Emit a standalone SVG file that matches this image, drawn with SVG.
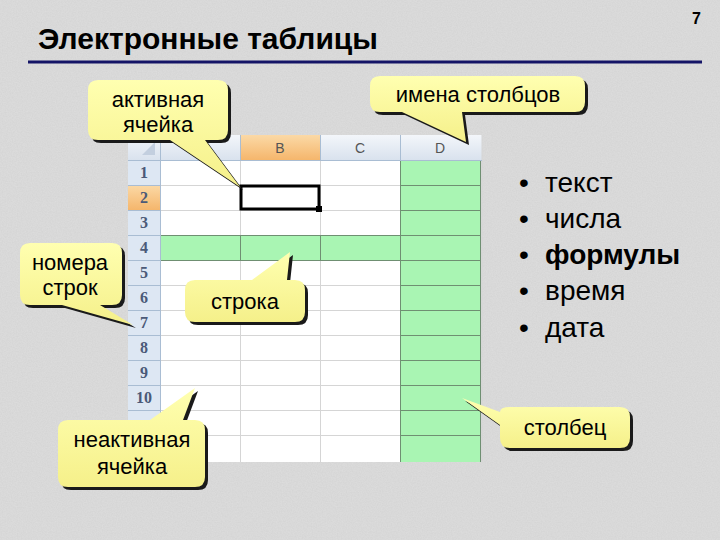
<svg xmlns="http://www.w3.org/2000/svg" width="720" height="540" viewBox="0 0 720 540">
<style>
.title{font-family:"Liberation Sans",Arial,sans-serif;font-weight:bold;font-size:30px;fill:#000}
.pg{font-family:"Liberation Sans",Arial,sans-serif;font-weight:bold;font-size:16px;fill:#000}
.co{font-family:"Liberation Sans",Arial,sans-serif;font-size:22px;fill:#000;text-anchor:middle}
.bl{font-family:"Liberation Sans",Arial,sans-serif;font-size:28px;fill:#000}
.rn{font-family:"Liberation Serif","Times New Roman",serif;font-size:16px;font-weight:bold;fill:#4b5a78;text-anchor:middle}
.cn{font-family:"Liberation Sans",Arial,sans-serif;font-size:14px;fill:#555;text-anchor:middle}
.gl{stroke:#d5d5d5;stroke-width:1}
.gg{stroke:#6f8f72;stroke-width:1}
.hl{stroke:#a9bdd3;stroke-width:1}
.cshadow{fill:#1a1a1a}
.cfill{fill:url(#yel)}
</style>
<defs>
<linearGradient id="yel" x1="0" y1="0" x2="0" y2="1">
<stop offset="0" stop-color="#ffffb0"/>
<stop offset="1" stop-color="#f5f08a"/>
</linearGradient>
<linearGradient id="hdr" x1="0" y1="0" x2="0" y2="1">
<stop offset="0" stop-color="#f3f6fa"/>
<stop offset="1" stop-color="#d9e2ee"/>
</linearGradient>
<linearGradient id="org" x1="0" y1="0" x2="0" y2="1">
<stop offset="0" stop-color="#fbd9a6"/>
<stop offset="1" stop-color="#f5b66c"/>
</linearGradient>
<filter id="noise" x="0" y="0" width="100%" height="100%">
<feTurbulence type="fractalNoise" baseFrequency="0.8" numOctaves="2" seed="3"/>
<feColorMatrix type="matrix" values="0 0 0 0 0.55  0 0 0 0 0.55  0 0 0 0 0.55  0 0 0 -1.2 1.0"/>
</filter>
</defs>

<!-- background -->
<rect x="0" y="0" width="720" height="540" fill="#dcdcdc"/>
<rect x="0" y="0" width="720" height="540" filter="url(#noise)" opacity="0.35"/>

<!-- title -->
<text class="title" x="38" y="49">Электронные таблицы</text>
<text class="pg" x="692" y="24">7</text>
<line x1="28" y1="62" x2="702" y2="62" stroke="#141466" stroke-width="3"/>

<!-- spreadsheet -->
<g id="sheet">
<rect x="160" y="160" width="320" height="302" fill="#ffffff"/>
<rect x="160" y="235" width="320" height="25" fill="#a9f5b3"/>
<rect x="400" y="160" width="80" height="302" fill="#a9f5b3"/>
<rect x="128" y="135" width="354" height="25" fill="url(#hdr)"/>
<rect x="240" y="135" width="80" height="25" fill="url(#org)"/>
<rect x="128" y="160" width="32" height="302" fill="#dde7f3"/>
<rect x="128" y="185" width="32" height="25" fill="url(#org)"/>
<polygon points="155,142 155,155 142,155" fill="#c3cfdf"/>
<g class="gl">
<line x1="160" y1="185.5" x2="400" y2="185.5"/>
<line x1="160" y1="210.5" x2="400" y2="210.5"/>
<line x1="160" y1="285.5" x2="400" y2="285.5"/>
<line x1="160" y1="310.5" x2="400" y2="310.5"/>
<line x1="160" y1="335.5" x2="400" y2="335.5"/>
<line x1="160" y1="360.5" x2="400" y2="360.5"/>
<line x1="160" y1="385.5" x2="400" y2="385.5"/>
<line x1="160" y1="410.5" x2="400" y2="410.5"/>
<line x1="160" y1="435.5" x2="400" y2="435.5"/>
<line x1="240.5" y1="160" x2="240.5" y2="462"/>
<line x1="320.5" y1="160" x2="320.5" y2="462"/>
<line x1="482" y1="135" x2="482" y2="462"/>
</g>
<g class="gg">
<line x1="160" y1="235.5" x2="480" y2="235.5"/>
<line x1="160" y1="260.5" x2="480" y2="260.5"/>
<line x1="240.5" y1="235" x2="240.5" y2="260"/>
<line x1="320.5" y1="235" x2="320.5" y2="260"/>
<line x1="400.5" y1="160" x2="400.5" y2="462"/>
<line x1="480.5" y1="160" x2="480.5" y2="462"/>
<line x1="400" y1="185.5" x2="480" y2="185.5"/>
<line x1="400" y1="210.5" x2="480" y2="210.5"/>
<line x1="400" y1="285.5" x2="480" y2="285.5"/>
<line x1="400" y1="310.5" x2="480" y2="310.5"/>
<line x1="400" y1="335.5" x2="480" y2="335.5"/>
<line x1="400" y1="360.5" x2="480" y2="360.5"/>
<line x1="400" y1="385.5" x2="480" y2="385.5"/>
<line x1="400" y1="410.5" x2="480" y2="410.5"/>
<line x1="400" y1="435.5" x2="480" y2="435.5"/>
</g>
<g class="hl">
<line x1="128" y1="160.5" x2="482" y2="160.5"/>
<line x1="160.5" y1="135" x2="160.5" y2="462"/>
<line x1="240.5" y1="135" x2="240.5" y2="160"/>
<line x1="320.5" y1="135" x2="320.5" y2="160"/>
<line x1="400.5" y1="135" x2="400.5" y2="160"/>
<line x1="128" y1="185.5" x2="160" y2="185.5"/>
<line x1="128" y1="210.5" x2="160" y2="210.5"/>
<line x1="128" y1="235.5" x2="160" y2="235.5"/>
<line x1="128" y1="260.5" x2="160" y2="260.5"/>
<line x1="128" y1="285.5" x2="160" y2="285.5"/>
<line x1="128" y1="310.5" x2="160" y2="310.5"/>
<line x1="128" y1="335.5" x2="160" y2="335.5"/>
<line x1="128" y1="360.5" x2="160" y2="360.5"/>
<line x1="128" y1="385.5" x2="160" y2="385.5"/>
<line x1="128" y1="410.5" x2="160" y2="410.5"/>
<line x1="128" y1="435.5" x2="160" y2="435.5"/>
</g>
<text class="cn" x="280" y="153">B</text>
<text class="cn" x="360" y="153">C</text>
<text class="cn" x="440" y="153">D</text>
<text class="rn" x="144" y="178">1</text>
<text class="rn" x="144" y="203">2</text>
<text class="rn" x="144" y="228">3</text>
<text class="rn" x="144" y="253">4</text>
<text class="rn" x="144" y="278">5</text>
<text class="rn" x="144" y="303">6</text>
<text class="rn" x="144" y="328">7</text>
<text class="rn" x="144" y="353">8</text>
<text class="rn" x="144" y="378">9</text>
<text class="rn" x="144" y="403">10</text>
<rect x="241" y="186" width="78" height="23" fill="none" stroke="#000" stroke-width="3"/>
<rect x="316" y="206" width="6" height="6" fill="#000"/>
</g>

<!-- bullet list -->
<g id="list">
<text class="bl" x="519" y="192">•</text>
<text class="bl" x="545" y="192">текст</text>
<text class="bl" x="519" y="228">•</text>
<text class="bl" x="545" y="228">числа</text>
<text class="bl" x="519" y="264">•</text>
<text class="bl" x="545" y="264" font-weight="bold">формулы</text>
<text class="bl" x="519" y="300">•</text>
<text class="bl" x="545" y="300">время</text>
<text class="bl" x="519" y="337">•</text>
<text class="bl" x="545" y="337">дата</text>
</g>

<!-- callouts -->
<g id="callout-active">
<path class="cshadow" transform="translate(3,3)" d="M98,80 H218 Q228,80 228,90 V130 Q228,140 218,140 H205 L240,187 L170,140 H98 Q88,140 88,130 V90 Q88,80 98,80 Z"/>
<path class="cfill" d="M98,80 H218 Q228,80 228,90 V130 Q228,140 218,140 H205 L240,187 L170,140 H98 Q88,140 88,130 V90 Q88,80 98,80 Z"/>
<text class="co" x="158" y="107">активная</text>
<text class="co" x="158" y="132">ячейка</text>
</g>
<g id="callout-colnames">
<path class="cshadow" transform="translate(3,3)" d="M380,76 H575 Q585,76 585,86 V102 Q585,112 575,112 H462 L466,142 L402,112 H380 Q370,112 370,102 V86 Q370,76 380,76 Z"/>
<path class="cfill" d="M380,76 H575 Q585,76 585,86 V102 Q585,112 575,112 H462 L466,142 L402,112 H380 Q370,112 370,102 V86 Q370,76 380,76 Z"/>
<text class="co" x="478" y="102">имена столбцов</text>
</g>
<g id="callout-rownums">
<path class="cshadow" transform="translate(3,3)" d="M30,243 H112 Q122,243 122,253 V295 Q122,305 112,305 H100 L133,325 L62,305 H30 Q20,305 20,295 V253 Q20,243 30,243 Z"/>
<path class="cfill" d="M30,243 H112 Q122,243 122,253 V295 Q122,305 112,305 H100 L133,325 L62,305 H30 Q20,305 20,295 V253 Q20,243 30,243 Z"/>
<text class="co" x="70" y="270">номера</text>
<text class="co" x="70" y="295">строк</text>
</g>
<g id="callout-row">
<path class="cshadow" transform="translate(3,3)" d="M195,280 H252 L290,252 L287,280 H295 Q305,280 305,290 V312 Q305,322 295,322 H195 Q185,322 185,312 V290 Q185,280 195,280 Z"/>
<path class="cfill" d="M195,280 H252 L290,252 L287,280 H295 Q305,280 305,290 V312 Q305,322 295,322 H195 Q185,322 185,312 V290 Q185,280 195,280 Z"/>
<text class="co" x="245" y="309">строка</text>
</g>
<g id="callout-inactive">
<path class="cshadow" transform="translate(3,3)" d="M68,420 H150 L195,388 L183,420 H195 Q205,420 205,430 V477 Q205,487 195,487 H68 Q58,487 58,477 V430 Q58,420 68,420 Z"/>
<path class="cfill" d="M68,420 H150 L195,388 L183,420 H195 Q205,420 205,430 V477 Q205,487 195,487 H68 Q58,487 58,477 V430 Q58,420 68,420 Z"/>
<text class="co" x="132" y="447">неактивная</text>
<text class="co" x="132" y="474">ячейка</text>
</g>
<g id="callout-column">
<path class="cshadow" transform="translate(3,3)" d="M510,407 H620 Q630,407 630,417 V438 Q630,448 620,448 H510 Q500,448 500,438 V425 L462,398 L500,412 Q500,407 510,407 Z"/>
<path class="cfill" d="M510,407 H620 Q630,407 630,417 V438 Q630,448 620,448 H510 Q500,448 500,438 V425 L462,398 L500,412 Q500,407 510,407 Z"/>
<text class="co" x="565" y="435">столбец</text>
</g>
</svg>
